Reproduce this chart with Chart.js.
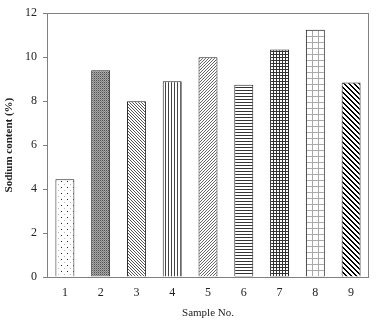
<!DOCTYPE html>
<html>
<head>
<meta charset="utf-8">
<script src="https://cdn.jsdelivr.net/npm/chart.js@4"></script>
<style>
  html, body { margin: 0; padding: 0; background: #fff; }
  #wrap { width: 376px; height: 325px; }
</style>
</head>
<body>
<div id="wrap"><canvas id="sodiumChart" width="376" height="325"></canvas></div>
<script>
let samples = ['1', '2', '3', '4', '5', '6', '7', '8', '9']
let sodium = [4.45, 9.4, 8.0, 8.9, 10.0, 8.75, 10.35, 11.25, 8.85]
let yTicks = [0, 2, 4, 6, 8, 10, 12]

const canvas = document.getElementById('sodiumChart')
const ctx = canvas.getContext('2d')

// small tiles for the hatch fills
function tile(size, draw) {
  const c = document.createElement('canvas')
  c.width = size
  c.height = size
  const g = c.getContext('2d')
  g.fillStyle = '#fff'
  g.fillRect(0, 0, size, size)
  draw(g, size)
  return ctx.createPattern(c, 'repeat')
}
function px(g, x, y, color) {
  g.fillStyle = color
  g.fillRect(x, y, 1, 1)
}

const fills = [
  // sparse dots
  tile(6, g => { px(g, 1, 1, '#222'); px(g, 4, 4, '#bbb') }),
  // dense dark stipple
  tile(2, g => {
    g.fillStyle = '#a8a8a8'; g.fillRect(0, 0, 2, 2)
    px(g, 0, 0, '#505050'); px(g, 1, 1, '#808080')
  }),
  // fine back diagonal
  tile(3, g => { for (let i = 0; i < 3; i++) px(g, i, i, '#555') }),
  // vertical lines
  tile(3, g => { g.fillStyle = '#444'; g.fillRect(0, 0, 1, 3) }),
  // fine forward diagonal
  tile(3, g => { for (let i = 0; i < 3; i++) px(g, i, 2 - i, '#666') }),
  // horizontal lines
  tile(3, g => { g.fillStyle = '#333'; g.fillRect(0, 0, 3, 1) }),
  // small dark grid
  tile(3, g => { g.fillStyle = '#333'; g.fillRect(0, 0, 3, 1); g.fillRect(0, 0, 1, 3) }),
  // light wide grid
  tile(6, g => { g.fillStyle = '#aaa'; g.fillRect(0, 0, 6, 1); g.fillRect(0, 0, 1, 6) }),
  // bold back diagonal
  tile(5, g => {
    for (let y = 0; y < 5; y++) {
      px(g, y, y, '#000')
      px(g, (y + 1) % 5, y, '#000')
    }
  })
]

// frame around the plot area
const frame = {
  id: 'frame',
  afterDatasetsDraw(chart) {
    const a = chart.chartArea
    const c = chart.ctx
    c.save()
    c.strokeStyle = '#808080'
    c.lineWidth = 1
    c.strokeRect(Math.round(a.left) + 0.5, Math.round(a.top) + 0.5,
      Math.round(a.right - a.left) - 1, Math.round(a.bottom - a.top))
    c.restore()
  }
}

const serif = 'Liberation Serif, "Times New Roman", serif'

new Chart(canvas, {
  type: 'bar',
  data: {
    labels: samples,
    datasets: [{
      data: sodium,
      backgroundColor: fills,
      borderColor: '#222',
      borderWidth: 1,
      barPercentage: 0.53,
      categoryPercentage: 1
    }]
  },
  options: {
    responsive: false,
    animation: false,
    devicePixelRatio: 1,
    layout: { padding: { left: 0, top: 10, right: 7, bottom: 0 } },
    plugins: {
      legend: { display: false },
      tooltip: { enabled: false }
    },
    scales: {
      x: {
        grid: { display: false },
        border: { display: false },
        ticks: { color: '#222', font: { family: serif, size: 12 }, padding: 1, maxRotation: 0 },
        title: {
          display: true,
          text: 'Sample No.',
          color: '#222',
          font: { family: serif, size: 11 },
          padding: { top: 0, bottom: 5 }
        },
        afterFit(scale) { scale.height = 48 }
      },
      y: {
        min: 0,
        max: 12,
        afterBuildTicks(scale) { scale.ticks = yTicks.map(v => ({ value: v })) },
        grid: { drawOnChartArea: false, drawTicks: true, tickLength: 4, color: '#808080' },
        border: { display: false },
        ticks: { color: '#222', font: { family: serif, size: 12 }, padding: 6 },
        title: {
          display: true,
          text: 'Sodium content (%)',
          color: '#222',
          font: { family: serif, size: 11, weight: 'bold' },
          padding: { top: 3, bottom: 0 }
        },
        afterFit(scale) { scale.width = 47 }
      }
    }
  },
  plugins: [frame]
})
</script>
</body>
</html>
